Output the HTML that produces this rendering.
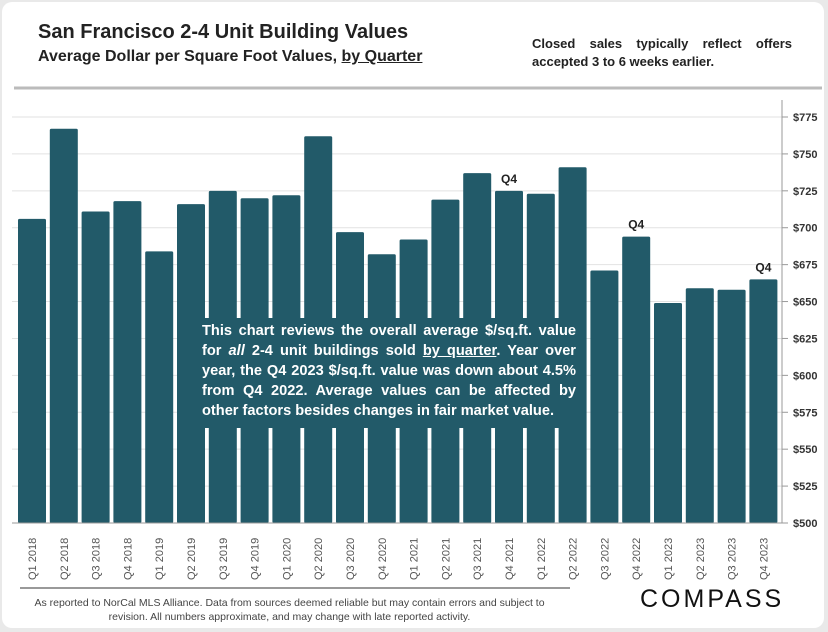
<!DOCTYPE html>
<html><head><meta charset="utf-8"><style>
body{margin:0;width:828px;height:632px;background:#e9e9e9;font-family:"Liberation Sans",sans-serif;overflow:hidden}
#card{position:absolute;left:2px;top:2px;width:822px;height:626px;background:#fff;border-radius:10px}
.t{position:absolute;font-weight:bold;color:#222}
</style></head><body>
<div id="card"></div>
<div class="t" style="left:38px;top:21px;font-size:20px">San Francisco 2-4 Unit Building Values</div>
<div class="t" style="left:38px;top:48px;font-size:16px">Average Dollar per Square Foot Values, <u>by Quarter</u></div>
<div class="t" style="left:532px;top:35px;font-size:13px;line-height:18px;width:260px;text-align:justify">Closed sales typically reflect offers accepted 3 to 6 weeks earlier.</div>
<svg id="chart" width="828" height="632" style="position:absolute;left:0;top:0">
<line x1="14" y1="88" x2="822" y2="88" stroke="#bbb" stroke-width="3"/>
<line x1="20" y1="588" x2="570" y2="588" stroke="#999" stroke-width="2"/>
</svg>
<div style="position:absolute;left:196px;top:318px;width:386px;height:110px;background:#225a69;color:#fff;font-weight:bold;font-size:14.6px;line-height:20px;padding:3px 6px;box-sizing:border-box;text-align:justify">This chart reviews the overall average $/sq.ft. value for <i>all</i> 2-4 unit buildings sold <u>by quarter</u>. Year over year, the Q4 2023 $/sq.ft. value was down about 4.5% from Q4 2022. Average values can be affected by other factors besides changes in fair market value.</div>
<div style="position:absolute;left:32px;top:596px;width:515px;text-align:center;font-size:10.5px;line-height:14px;color:#444">As reported to NorCal MLS Alliance. Data from sources deemed reliable but may contain errors and subject to revision. All numbers approximate, and may change with late reported activity.</div>
<div style="position:absolute;left:640px;top:585px;font-size:25px;letter-spacing:3px;color:#111">COMPASS</div>
<script>
const categories=["Q1 2018","Q2 2018","Q3 2018","Q4 2018","Q1 2019","Q2 2019","Q3 2019","Q4 2019","Q1 2020","Q2 2020","Q3 2020","Q4 2020","Q1 2021","Q2 2021","Q3 2021","Q4 2021","Q1 2022","Q2 2022","Q3 2022","Q4 2022","Q1 2023","Q2 2023","Q3 2023","Q4 2023"];
const values=[706,767,711,718,684,716,725,720,722,762,697,682,692,719,737,725,723,741,671,694,649,659,658,665];
const ticks=[500,525,550,575,600,625,650,675,700,725,750,775];
const q4Labels=["Q4 2021","Q4 2022","Q4 2023"];
const svg=document.getElementById('chart'),NS='http://www.w3.org/2000/svg';
const y=v=>523-(v-500)*406/275;
const x=i=>18+i*31.8;
function mk(t,a){const e=document.createElementNS(NS,t);for(const k in a)e.setAttribute(k,a[k]);svg.appendChild(e);return e;}
ticks.forEach(t=>{
 const g=mk('line',{x1:12,x2:782,y1:y(t),y2:y(t),stroke:'#e2e2e2'});
 
 
 const m=mk('line',{x1:782,x2:788,y1:y(t),y2:y(t),stroke:'#999'});
 
 
 const l=mk('text',{x:793,y:y(t)+4,'font-size':11,'font-weight':'bold',fill:'#333'});l.textContent='$'+t;
 
 
});
const ax=mk('line',{x1:782,x2:782,y1:100,y2:523,stroke:'#999'});


values.forEach((v,i)=>{
 const b=mk('rect',{x:x(i),y:y(v),width:28,height:523-y(v),fill:'#225a69',rx:1.5});
 
 
 const cx=x(i)+14;
 const l=mk('text',{x:0,y:0,'font-size':11,fill:'#555',transform:`translate(${cx+4},580) rotate(-90)`});l.textContent=categories[i];
 
 
 if(q4Labels.includes(categories[i])){
  const q=mk('text',{x:cx,y:y(v)-8,'font-size':12,'font-weight':'bold','text-anchor':'middle',fill:'#222'});q.textContent='Q4';
  
  
 }
});
const xa=mk('line',{x1:12,x2:782,y1:523,y2:523,stroke:'#999'});


</script>
</body></html>
